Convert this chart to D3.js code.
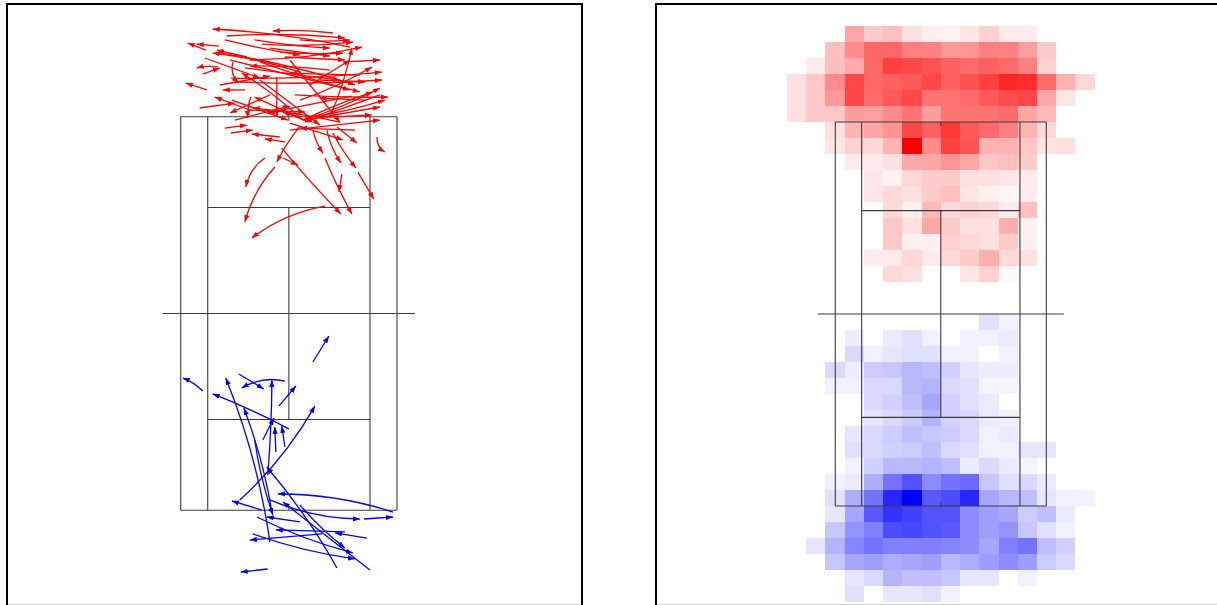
<!DOCTYPE html>
<html>
<head>
<meta charset="utf-8">
<script src="https://cdn.jsdelivr.net/npm/d3@7"></script>
<style>
  body { margin: 0; background: #fff; }
</style>
</head>
<body>
<svg id="chart" width="1217" height="605"></svg>
<script>
// tennis court dimensions in metres
const courtLength = 23.77;
const courtWidth = 10.97;
const singlesWidth = 8.23;
const serviceDist = 6.4;
const netOverhang = 0.914;

// movements [x0, y0, x1, y1, bend] in metres, y > 0 is the far half
const redMoves = [
  [2.23,16.94,-0.81,17.06,0.05], [3.10,16.09,-3.86,17.18,0.04], [-3.15,16.76,2.84,16.64,-0.04],
  [-1.37,16.27,3.25,16.39,0.05], [-4.21,15.91,-5.13,16.33,0], [-3.55,16.15,-4.67,16.27,0],
  [-1.98,15.31,3.71,16.09,0.05], [0.56,14.58,-3.86,15.73,0.05], [-2.13,15.49,-3.65,15.91,0],
  [-0.46,15.79,2.74,15.73,0.03], [-0.20,15.49,2.84,15.31,0], [-3.60,14.89,-4.67,14.83,0.1],
  [-4.37,14.46,-3.50,14.83,0], [-4.16,13.50,-5.23,13.92,0], [-2.23,13.50,-3.35,13.50,0],
  [-1.98,12.29,-3.76,13.07,0], [-2.94,14.22,4.72,14.58,0.03], [-2.49,13.98,4.72,14.10,0.03],
  [0.56,12.89,4.21,14.89,0.05], [-3.71,15.79,3.35,13.80,-0.04], [-2.99,15.31,3.10,13.50,0],
  [-1.47,15.19,3.60,13.38,0.03], [-2.23,14.83,2.59,14.10,0], [0.71,11.68,4.62,13.62,0.05],
  [0.71,11.68,4.26,13.38,-0.03], [0.81,11.81,4.87,12.89,0.04], [0.81,11.68,4.62,12.47,0],
  [2.08,11.87,3.20,16.03,0.05], [0.71,11.68,-2.39,14.52,0.05], [0.56,11.81,-1.73,13.07,0],
  [-1.93,13.07,-2.08,11.81,0.1], [-0.61,14.28,-0.61,11.87,0], [-2.84,15.19,-2.54,13.92,0.3],
  [-3.25,11.20,-2.13,11.38,0], [-2.94,10.90,-1.83,11.08,0], [-0.46,10.66,-1.88,10.84,0],
  [-0.20,10.36,-1.22,10.54,0], [0.56,11.32,-0.61,9.15,0.05], [-1.22,9.39,-2.18,7.64,0.2],
  [-0.71,8.85,-2.23,5.53,0.12], [1.83,6.49,-1.88,4.56,0.12], [-0.36,9.99,2.64,6.01,0.02],
  [-0.30,9.39,0.46,8.97,0], [1.22,11.08,1.73,9.69,0.1], [1.93,11.08,2.64,9.09,0.1],
  [2.23,10.90,3.40,8.79,0.05], [1.83,9.39,3.20,6.01,0.03], [2.69,8.42,2.54,7.34,0],
  [3.50,8.54,4.31,6.91,0], [2.44,11.26,3.45,10.30,0], [4.47,10.66,4.87,9.75,0.3],
  [0.05,11.50,2.74,10.48,0], [2.59,11.56,-1.83,12.41,0.03], [4.62,13.20,0.81,11.56,0],
  [3.20,13.13,-1.07,12.11,0], [3.86,12.89,1.57,13.01,0], [0.30,13.20,5.03,13.07,0.02],
  [-2.74,11.68,0.05,12.53,0], [2.08,14.70,-1.98,14.95,0.03], [3.60,14.40,0.05,14.52,0],
  [1.57,14.10,3.86,13.98,0], [-3.50,13.80,-0.96,14.34,0], [0.56,16.52,3.10,16.52,0.05],
  [-0.96,16.03,2.08,15.55,0], [-2.89,12.89,-0.05,11.68,0], [0.05,15.31,2.59,11.56,0],
  [-1.47,14.10,1.57,11.38,0], [1.07,11.56,-0.30,12.17,0], [1.32,11.81,4.21,11.99,0],
  [0.05,11.08,4.62,11.68,0], [3.35,11.08,0.56,11.20,0], [-4.52,12.41,-2.74,12.71,0],
  [-1.73,16.52,2.08,16.03,0.03], [2.84,15.19,4.62,15.31,0], [-4.26,15.43,-1.47,14.22,0],
  [-3.25,16.52,0.56,15.61,0.02], [1.07,13.80,3.10,15.31,0], [-0.96,13.20,-2.99,12.11,0],
  [-2.08,12.29,0.81,12.17,0]
];

const blueMoves = [
  [1.22,-2.93,2.03,-1.36,0], [-4.37,-4.68,-5.38,-3.89,0.1], [-2.54,-3.65,-1.27,-4.56,0],
  [-0.20,-4.08,-2.39,-4.50,0.2], [-0.51,-5.59,0.36,-4.38,0], [0.00,-6.97,-3.86,-4.86,0.03],
  [-0.96,-13.80,-3.20,-3.89,0.06], [-0.86,-11.99,-2.28,-5.71,0.05], [-1.07,-9.75,-0.86,-4.02,0.02],
  [-0.20,-8.06,-0.36,-6.79,0], [-1.32,-7.64,-0.76,-6.31,0], [-0.66,-8.36,-0.71,-6.85,0],
  [-2.49,-11.26,1.32,-5.59,0.08], [-1.37,-11.87,-2.89,-11.32,0], [5.28,-11.99,-0.56,-10.90,0.08],
  [-0.96,-11.26,3.60,-12.41,0.1], [3.81,-12.41,5.28,-12.29,0], [-1.62,-12.29,3.25,-14.46,0.05],
  [3.96,-13.56,2.34,-13.25,0], [1.68,-13.31,-1.98,-13.68,0], [-1.83,-13.31,3.35,-14.82,0.05],
  [2.44,-15.37,-1.12,-9.27,0.05], [4.11,-15.49,-0.30,-11.38,0], [-1.07,-15.43,-2.44,-15.61,0],
  [2.84,-13.19,-0.66,-13.07,0], [0.56,-12.59,-1.12,-12.29,0], [-1.73,-7.64,-0.81,-12.17,0.05],
  [0.56,-11.56,2.84,-14.16,0.05]
];

// heat map: 16 one-metre columns from -8 m, 36 rows (24 rows span the court)
const heatColStart = -8;
const heatColCount = 16;
const heatRowCount = 36;
const heatRowsOutside = 6;

// rows 0..15 (far half)
const redHeat = [
  [0,0,0,.35,.2,.25,.12,.06,.05,.1,.18,.08,.08,0,0,0],
  [0,0,.25,.45,.6,.6,.5,.5,.4,.42,.5,.5,.38,.2,0,0],
  [0,.08,.25,.33,.6,.75,.72,.68,.62,.58,.62,.58,.5,.18,0,0],
  [.12,.22,.45,.72,.6,.62,.65,.72,.62,.68,.75,.85,.82,.58,.3,.15],
  [.12,.22,.4,.72,.58,.65,.72,.55,.55,.58,.65,.7,.72,.35,.1,0],
  [.12,.22,.22,.38,.38,.45,.55,.38,.55,.55,.55,.58,.35,.28,0,0],
  [0,0,.12,.3,.35,.42,.72,.62,.78,.65,.58,.5,.3,.15,0,0],
  [0,0,.1,.18,.15,.3,1,.45,.75,.68,.3,.3,.22,.1,.12,0],
  [0,0,0,.08,.08,.12,.35,.35,.42,.35,.22,.25,.2,0,0,0],
  [0,0,0,0,.1,.05,.15,.2,.2,.12,.12,.1,.08,0,0,0],
  [0,0,0,0,.1,.15,.12,.2,.25,.1,.06,.04,.08,0,0,0],
  [0,0,0,0,0,.15,.06,.28,.15,.18,.15,.08,.25,0,0,0],
  [0,0,0,0,0,.22,.12,.35,.2,.12,.12,.32,.06,0,0,0],
  [0,0,0,0,0,.22,.06,.06,.18,.15,.12,.2,.06,0,0,0],
  [0,0,0,0,.08,.08,.15,.08,.15,.2,.32,.15,.12,0,0,0],
  [0,0,0,0,0,.15,.12,0,0,.1,.18,.02,0,0,0,0]
];
const redHeatStart = 0;

// rows 18..35 (near half)
const blueHeat = [
  [0,0,0,0,0,0,0,0,0,0,.12,.05,0,0,0,0],
  [0,0,0,.07,0,.08,.12,.05,0,.05,.06,.08,0,0,0,0],
  [0,0,0,.15,.06,.1,.12,.12,.05,.06,0,.05,0,0,0,0],
  [0,0,.15,.07,.2,.22,.28,.25,.18,.1,.07,.07,0,0,0,0],
  [0,0,.05,.06,.15,.15,.28,.3,.15,.12,.04,.04,0,0,0,0],
  [0,0,0,0,.15,.18,.25,.35,.18,.12,.08,0,0,0,0,0],
  [0,0,0,0,.1,.15,.2,.3,.18,.15,.08,.06,0,0,0,0],
  [0,0,0,.1,.15,.2,.25,.22,.2,.15,.06,.08,0,0,0,0],
  [0,0,0,.12,.15,.18,.2,.25,.15,.12,.06,.06,.1,.1,0,0],
  [0,0,0,.06,.18,.28,.28,.3,.25,.08,.15,.08,.04,0,0,0],
  [0,0,.06,.08,.32,.55,.68,.45,.55,.58,.22,.12,.15,.08,0,0],
  [0,0,.12,.32,.55,.85,1,.65,.7,.85,.35,.28,.25,.1,.06,.05],
  [0,0,.1,.35,.65,.8,.75,.68,.68,.45,.38,.35,.2,.25,.08,0],
  [0,0,.22,.42,.5,.7,.72,.68,.65,.45,.38,.42,.22,.12,.05,0],
  [0,.1,.3,.48,.55,.5,.5,.5,.48,.45,.35,.5,.55,.25,.18,0],
  [0,0,.22,.35,.38,.32,.35,.38,.28,.32,.38,.45,.38,.2,.15,0],
  [0,0,0,.1,.15,.3,.25,.25,.22,.1,.1,0,.06,0,0,0],
  [0,0,0,.12,0,.1,.1,.12,.05,0,0,0,0,0,0,0]
];
const blueHeatStart = 18;

const svg = d3.select("#chart");
svg.append("rect").attr("width", 1217).attr("height", 605).attr("fill", "#fff");

const halfL = courtLength / 2, halfW = courtWidth / 2, halfS = singlesWidth / 2;

// panel layouts
const leftPanel = { frame: [7, 4, 575, 601.8], cx: [180.7, 397], cy: [116.7, 510.3] };
const rightPanel = { frame: [656, 4, 575, 601.8], cx: [835.3, 1046.3], cy: [122, 506] };

function scalesFor(p) {
  return {
    x: d3.scaleLinear().domain([-halfW, halfW]).range(p.cx),
    y: d3.scaleLinear().domain([halfL, -halfL]).range(p.cy)
  };
}

function drawCourt(g, x, y) {
  const lines = [
    [-halfW, halfL, halfW, halfL], [-halfW, -halfL, halfW, -halfL],
    [-halfW, halfL, -halfW, -halfL], [halfW, halfL, halfW, -halfL],
    [-halfS, halfL, -halfS, -halfL], [halfS, halfL, halfS, -halfL],
    [-halfS, serviceDist, halfS, serviceDist], [-halfS, -serviceDist, halfS, -serviceDist],
    [0, serviceDist, 0, -serviceDist],
    [-(halfW + netOverhang), 0, halfW + netOverhang, 0],
    [0, halfL, 0, halfL - 0.25], [0, -halfL, 0, -halfL + 0.25]
  ];
  g.selectAll("line.court")
    .data(lines)
    .join("line")
    .attr("class", "court")
    .attr("x1", d => x(d[0])).attr("y1", d => y(d[1]))
    .attr("x2", d => x(d[2])).attr("y2", d => y(d[3]))
    .attr("stroke", "#3c3c3c")
    .attr("stroke-width", 1.1);
}

function drawFrame(p) {
  svg.append("rect")
    .attr("x", p.frame[0]).attr("y", p.frame[1])
    .attr("width", p.frame[2]).attr("height", p.frame[3])
    .attr("fill", "none")
    .attr("stroke", "#000")
    .attr("stroke-width", 2);
}

// arrow markers
const defs = svg.append("defs");
[["arrowRed", "#ff0000"], ["arrowBlue", "#0000ff"]].forEach(([id, col]) => {
  defs.append("marker")
    .attr("id", id)
    .attr("viewBox", "-7 -3 7 6")
    .attr("refX", 0).attr("refY", 0)
    .attr("markerUnits", "userSpaceOnUse")
    .attr("markerWidth", 7).attr("markerHeight", 6)
    .attr("orient", "auto")
    .append("path")
    .attr("d", "M0,0L-7,-2.6L-7,2.6Z")
    .attr("fill", col);
});

// ---- left panel: movement arrows
const L = scalesFor(leftPanel);
const gl = svg.append("g");
drawCourt(gl, L.x, L.y);

function movePath(d) {
  const x0 = L.x(d[0]), y0 = L.y(d[1]), x1 = L.x(d[2]), y1 = L.y(d[3]);
  const dx = x1 - x0, dy = y1 - y0;
  const mx = (x0 + x1) / 2 - d[4] * dy, my = (y0 + y1) / 2 + d[4] * dx;
  return `M${x0},${y0}Q${mx},${my} ${x1},${y1}`;
}

gl.selectAll("path.red")
  .data(redMoves)
  .join("path")
  .attr("class", "red")
  .attr("d", movePath)
  .attr("fill", "none")
  .attr("stroke", "#ff0000")
  .attr("stroke-width", 1.3)
  .attr("marker-end", "url(#arrowRed)");

gl.selectAll("path.blue")
  .data(blueMoves)
  .join("path")
  .attr("class", "blue")
  .attr("d", movePath)
  .attr("fill", "none")
  .attr("stroke", "#0000ff")
  .attr("stroke-width", 1.3)
  .attr("marker-end", "url(#arrowBlue)");

drawFrame(leftPanel);

// ---- right panel: position heat map
const R = scalesFor(rightPanel);
const gr = svg.append("g");
const binH = courtLength / 24;
const heatTop = halfL + heatRowsOutside * binH;

const cells = [];
redHeat.forEach((row, i) => row.forEach((v, c) => {
  if (v > 0) cells.push({ r: redHeatStart + i, c, v, col: "red" });
}));
blueHeat.forEach((row, i) => row.forEach((v, c) => {
  if (v > 0) cells.push({ r: blueHeatStart + i, c, v, col: "blue" });
}));

const redScale = d3.scaleLinear().domain([0, 1]).range(["#ffffff", "#ff0000"]);
const blueScale = d3.scaleLinear().domain([0, 1]).range(["#ffffff", "#0000ff"]);

gr.selectAll("rect.cell")
  .data(cells)
  .join("rect")
  .attr("class", "cell")
  .attr("x", d => R.x(heatColStart + d.c))
  .attr("y", d => R.y(heatTop - d.r * binH))
  .attr("width", d => R.x(heatColStart + d.c + 1) - R.x(heatColStart + d.c))
  .attr("height", d => R.y(heatTop - (d.r + 1) * binH) - R.y(heatTop - d.r * binH))
  .attr("fill", d => d.col === "red" ? redScale(d.v) : blueScale(d.v))
  .attr("shape-rendering", "crispEdges");

drawCourt(gr, R.x, R.y);
drawFrame(rightPanel);
</script>
</body>
</html>
